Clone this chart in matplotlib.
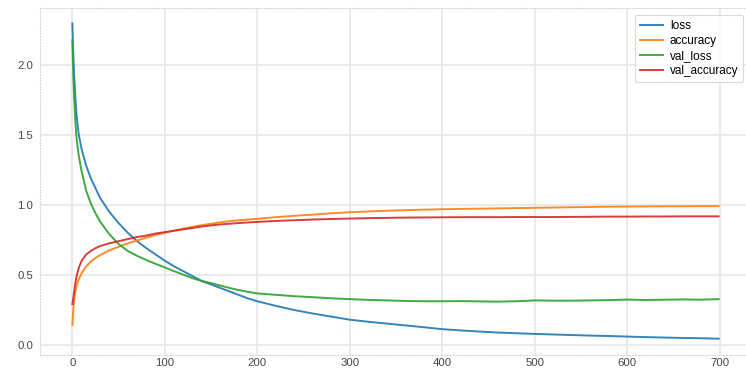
import matplotlib
matplotlib.use("Agg")
import matplotlib.pyplot as plt

epochs = [0, 1, 2, 3, 4, 5, 7, 10, 15, 20, 25, 30,
          40, 50, 60, 70, 80, 90, 100, 110, 120, 130, 140, 150, 160, 170, 180, 190, 200,
          220, 240, 260, 280, 300, 320, 340, 360, 380, 400, 420, 440, 460, 480, 500,
          520, 540, 560, 580, 600, 620, 640, 660, 680, 699]

loss = [2.30, 2.08, 1.92, 1.80, 1.69, 1.61, 1.50, 1.40, 1.28, 1.19, 1.12, 1.05,
        0.95, 0.87, 0.80, 0.74, 0.69, 0.645, 0.60, 0.56, 0.525, 0.49, 0.455, 0.43, 0.405, 0.38, 0.355, 0.33, 0.31,
        0.277, 0.247, 0.222, 0.200, 0.178, 0.163, 0.150, 0.137, 0.124, 0.110, 0.101, 0.093, 0.086, 0.081, 0.076,
        0.072, 0.068, 0.064, 0.061, 0.057, 0.053, 0.050, 0.047, 0.045, 0.042]

accuracy = [0.14, 0.25, 0.32, 0.37, 0.40, 0.43, 0.47, 0.51, 0.56, 0.595, 0.62, 0.64,
            0.675, 0.70, 0.725, 0.745, 0.765, 0.785, 0.80, 0.815, 0.83, 0.843, 0.855, 0.865, 0.875, 0.883, 0.89, 0.895, 0.90,
            0.912, 0.922, 0.930, 0.940, 0.947, 0.953, 0.958, 0.962, 0.966, 0.969, 0.971, 0.973, 0.975, 0.977, 0.979,
            0.981, 0.983, 0.985, 0.987, 0.988, 0.989, 0.990, 0.990, 0.991, 0.991]

val_loss = [2.18, 1.93, 1.76, 1.62, 1.52, 1.45, 1.35, 1.24, 1.10, 1.01, 0.94, 0.88,
            0.79, 0.72, 0.67, 0.635, 0.605, 0.578, 0.552, 0.525, 0.50, 0.475, 0.455, 0.44, 0.422, 0.405, 0.39, 0.377, 0.366,
            0.356, 0.346, 0.339, 0.331, 0.325, 0.320, 0.316, 0.312, 0.310, 0.310, 0.311, 0.309, 0.307, 0.310, 0.316,
            0.314, 0.314, 0.316, 0.318, 0.322, 0.319, 0.321, 0.323, 0.321, 0.325]

val_accuracy = [0.29, 0.33, 0.38, 0.43, 0.47, 0.50, 0.55, 0.60, 0.645, 0.67, 0.69, 0.705,
                0.725, 0.74, 0.755, 0.77, 0.78, 0.795, 0.805, 0.815, 0.825, 0.835, 0.845, 0.853, 0.86, 0.865, 0.87, 0.874, 0.878,
                0.885, 0.890, 0.895, 0.899, 0.902, 0.905, 0.907, 0.909, 0.910, 0.911, 0.912, 0.912, 0.912, 0.913, 0.913,
                0.913, 0.914, 0.915, 0.916, 0.916, 0.917, 0.917, 0.918, 0.918, 0.918]

series = [("loss", loss, "#1f77b4"), ("accuracy", accuracy, "#ff7f0e"),
          ("val_loss", val_loss, "#2ca02c"), ("val_accuracy", val_accuracy, "#d62728")]

plt.rcParams['font.family'] = ['Liberation Sans', 'DejaVu Sans']

W, H = 746, 371
fig = plt.figure(figsize=(W / 100, H / 100), dpi=100)
ax = fig.add_axes([40 / W, 1 - 355 / H, (751 - 40) / W, (355 - 8) / H])

for name, vals, col in series:
    ax.plot(epochs, vals, color=col, lw=1.4, alpha=0.9, label=name)

ax.set_xlim(-35, 734)
ax.set_ylim(-0.075, 2.41)
ax.set_xticks([0, 100, 200, 300, 400, 500, 600, 700])
ax.set_yticks([0.0, 0.5, 1.0, 1.5, 2.0])
ax.grid(True, color='#e6e6e6', lw=1.2)
ax.set_axisbelow(True)
for s in ax.spines.values():
    s.set_color('#d8d8d8')
    s.set_linestyle(':')
    s.set_linewidth(0.8)
ax.tick_params(axis='y', length=0, labelsize=8.2, colors='#444444', pad=5)
ax.tick_params(axis='x', length=0, labelsize=8.2, colors='#444444', pad=2.5)

leg = fig.legend(loc='upper right', bbox_to_anchor=(743 / W, 1 - 15 / H), borderaxespad=0,
                 fontsize=8.5, frameon=True, fancybox=True, handlelength=1.95,
                 labelspacing=0.27, borderpad=0.4, handletextpad=0.6)
leg.get_frame().set_edgecolor('#d0d0d0')
leg.get_frame().set_linewidth(0.8)

fig.savefig("out.png", dpi=100)
